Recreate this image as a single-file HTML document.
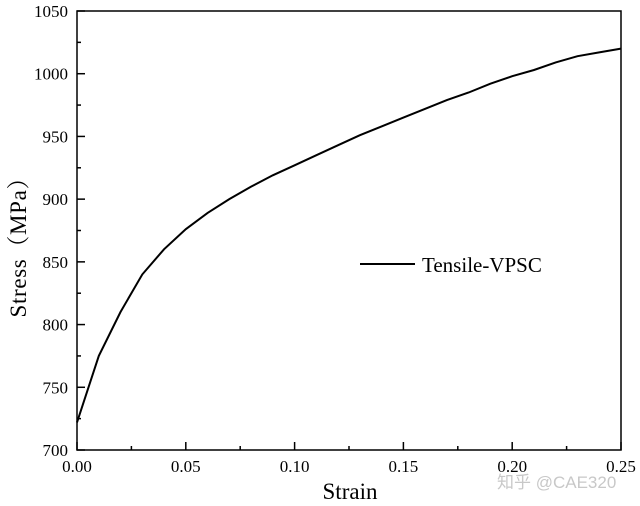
<!DOCTYPE html>
<html><head><meta charset="utf-8"><style>
body{margin:0;background:#fff}
svg{display:block;font-family:"Liberation Serif","Noto Serif CJK SC",serif}
</style></head><body>
<svg id="chart" width="640" height="506" viewBox="0 0 640 506">
<rect width="640" height="506" fill="#fff"/>
<g id="axes"></g>
<path id="curve" fill="none" stroke="#000" stroke-width="2"/>
<line x1="360" y1="264" x2="415" y2="264" stroke="#000" stroke-width="2"/>
<text x="422" y="272" font-size="21">Tensile-VPSC</text>
<text x="350" y="499" font-size="23" text-anchor="middle">Strain</text>
<text transform="translate(26,242) rotate(-90)" font-size="23" text-anchor="middle" textLength="151" lengthAdjust="spacing">Stress（MPa）</text>
<text x="497" y="488" font-size="17" fill="#c8c8c8" font-family="Liberation Sans,Noto Sans CJK SC,sans-serif">知乎 @CAE320</text>
</svg>
<script>
const strain=[0,0.01,0.02,0.03,0.04,0.05,0.06,0.07,0.08,0.09,0.10,0.11,0.12,0.13,0.14,0.15,0.16,0.17,0.18,0.19,0.20,0.21,0.22,0.23,0.24,0.25];
const stress=[722,775,810,840,860,876,889,900,910,919,927,935,943,951,958,965,972,979,985,992,998,1003,1009,1014,1017,1020];
const xTicks=[0,0.05,0.10,0.15,0.20,0.25];
const xTickLabels=["0.00","0.05","0.10","0.15","0.20","0.25"];
const yTicks=[700,750,800,850,900,950,1000,1050];
const X0=77,X1=621,Y0=450,Y1=11;
function sx(v){return X0+(v-0)/(0.25-0)*(X1-X0);}
function sy(v){return Y0-(v-700)/(1050-700)*(Y0-Y1);}
const ns="http://www.w3.org/2000/svg";
const ax=document.getElementById('axes');
function mk(tag,attrs,parent){const e=document.createElementNS(ns,tag);for(const k in attrs)e.setAttribute(k,attrs[k]);(parent||ax).appendChild(e);return e;}
const frame=mk('rect',{x:X0,y:Y1,width:X1-X0,height:Y0-Y1,fill:'none',stroke:'#000','stroke-width':1.5});


xTicks.forEach((t,i)=>{
  const l=mk('line',{x1:sx(t),x2:sx(t),y1:Y0,y2:Y0-8,stroke:'#000','stroke-width':1.5});
  
  
  if(i<xTicks.length-1){const m=(t+xTicks[i+1])/2;
    const ml=mk('line',{x1:sx(m),x2:sx(m),y1:Y0,y2:Y0-4,stroke:'#000','stroke-width':1.5});
    
    }
  const tx=mk('text',{x:sx(t),y:Y0+22,'font-size':17,'text-anchor':'middle'});
  tx.textContent=xTickLabels[i];
  
  
});
yTicks.forEach((t,i)=>{
  const l=mk('line',{x1:X0,x2:X0+8,y1:sy(t),y2:sy(t),stroke:'#000','stroke-width':1.5});
  
  
  if(i<yTicks.length-1){const m=(t+yTicks[i+1])/2;
    const ml=mk('line',{x1:X0,x2:X0+4,y1:sy(m),y2:sy(m),stroke:'#000','stroke-width':1.5});
    
    }
  const tx=mk('text',{x:X0-9,y:sy(t)+6,'font-size':17,'text-anchor':'end'});
  tx.textContent=String(t);
  
  
});
document.getElementById('curve').setAttribute('d',strain.map((s,i)=>(i?'L':'M')+sx(s).toFixed(1)+','+sy(stress[i]).toFixed(1)).join(' '));
</script>
</body></html>
